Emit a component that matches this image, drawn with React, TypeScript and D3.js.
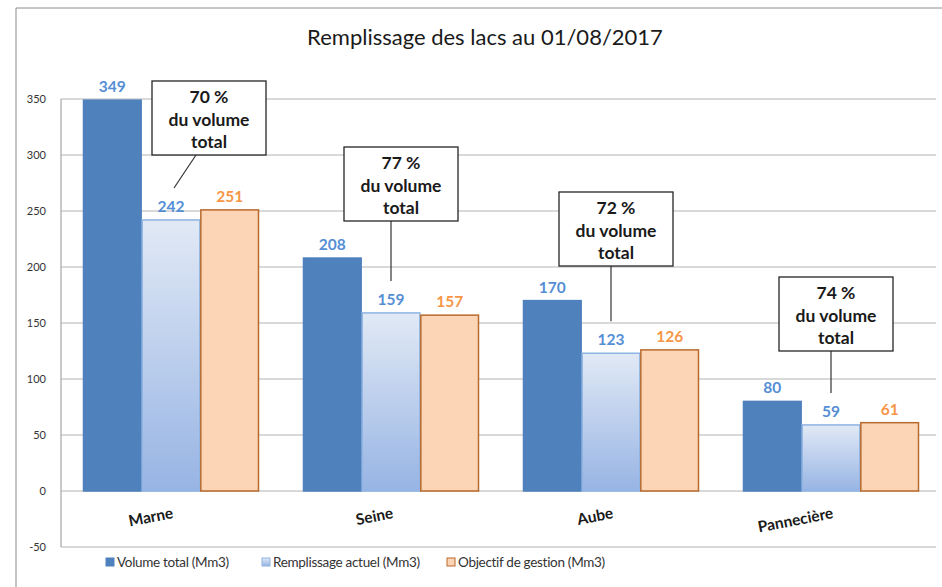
import React from "react";
import * as d3 from "d3";

const lakes = ["Marne", "Seine", "Aube", "Pannecière"];
const volumeTotal = [349, 208, 170, 80];
const remplissage = [242, 159, 123, 59];
const objectif = [251, 157, 126, 61];
const fillPct = ["70 %", "77 %", "72 %", "74 %"];
const yTicks = [-50, 0, 50, 100, 150, 200, 250, 300, 350];
const seriesNames = [
  "Volume total (Mm3)",
  "Remplissage actuel (Mm3)",
  "Objectif de gestion (Mm3)",
];

// callout placement (pixels, relative to the "remplissage" bar)
const calloutLayout = [
  { dx: 38, top: 81, lineDx: 25 },
  { dx: 10, top: 147, lineDx: 0 },
  { dx: 5, top: 192, lineDx: 0 },
  { dx: 5, top: 277, lineDx: 0 },
];

const W = 942;
const H = 587;
const margin = { left: 61, right: 1, top: 99, bottom: 40 };
const font = "Lato, 'Open Sans', sans-serif";

const App = () => {
  const x = d3
    .scaleBand()
    .domain(lakes)
    .range([margin.left, W - margin.right])
    .paddingInner(0.2)
    .paddingOuter(0.1);

  const sub = d3
    .scaleBand()
    .domain(["total", "actuel", "objectif"])
    .range([0, x.bandwidth()]);

  const y = d3.scaleLinear().domain([-50, 350]).range([547, 99]);

  const series = [
    { key: "total", values: volumeTotal, fill: "#4F81BD", stroke: "#4F81BD", label: "#558ED5" },
    { key: "actuel", values: remplissage, fill: "url(#gradActuel)", stroke: "#8EB4E3", label: "#558ED5" },
    { key: "objectif", values: objectif, fill: "#FBD5B5", stroke: "#B9692B", label: "#F79646" },
  ];

  const boxW = 114;
  const boxH = 74;

  return (
    <svg
      width={W}
      height={H}
      style={{ position: "fixed", left: 0, top: 0, background: "#fff" }}
    >
      <defs>
        <linearGradient id="gradActuel" x1="0" y1="0" x2="0" y2="1">
          <stop offset="0%" stopColor="#E1E9F5" />
          <stop offset="100%" stopColor="#97B4E4" />
        </linearGradient>
      </defs>

      {/* chart frame */}
      <line x1={16} x2={16} y1={8} y2={H} stroke="#8c8c8c" />
      <line x1={16} x2={W} y1={8} y2={8} stroke="#8c8c8c" />

      <text
        x={485}
        y={45}
        textAnchor="middle"
        fontFamily={font}
        fontSize={22}
        fill="#1a1a1a"
      >
        Remplissage des lacs au 01/08/2017
      </text>

      {/* grid + y axis */}
      {yTicks.map((t) => (
        <g key={t}>
          <line
            x1={margin.left}
            x2={W - 6}
            y1={y(t)}
            y2={y(t)}
            stroke="#b3b3b3"
            strokeWidth={1.2}
          />
          <text
            x={46}
            y={y(t)}
            dy="0.35em"
            textAnchor="end"
            fontFamily={font}
            fontSize={11}
            fill="#333"
          >
            {t}
          </text>
        </g>
      ))}
      <line
        x1={margin.left}
        x2={margin.left}
        y1={y(350)}
        y2={y(-50)}
        stroke="#a6a6a6"
        strokeWidth={1.2}
      />

      {/* bars */}
      {series.map((s) =>
        lakes.map((lake, i) => {
          const bx = (x(lake) as number) + (sub(s.key) as number);
          const v = s.values[i];
          return (
            <g key={s.key + lake}>
              <rect
                x={bx + 0.5}
                y={y(v)}
                width={sub.bandwidth() - 1}
                height={y(0) - y(v)}
                fill={s.fill}
                stroke={s.stroke}
                strokeWidth={1.5}
              />
              <text
                x={bx + sub.bandwidth() / 2}
                y={y(v) - 8}
                textAnchor="middle"
                fontFamily={font}
                fontWeight="bold"
                fontSize={15.5}
                fill={s.label}
              >
                {v}
              </text>
            </g>
          );
        })
      )}

      {/* x labels */}
      {lakes.map((lake) => {
        const cx = (x(lake) as number) + x.bandwidth() / 2;
        return (
          <text
            key={lake}
            transform={`translate(${cx + 3},518) rotate(-11)`}
            textAnchor="end"
            fontFamily={font}
            fontWeight="bold"
            fontSize={15.5}
            fill="#1a1a1a"
          >
            {lake}
          </text>
        );
      })}

      {/* callouts */}
      {lakes.map((lake, i) => {
        const L = calloutLayout[i];
        const bc = (x(lake) as number) + (sub("actuel") as number) + sub.bandwidth() / 2;
        const bx = bc + L.dx - boxW / 2;
        return (
          <g key={"c" + lake}>
            <line
              x1={bc + L.lineDx}
              y1={L.top + boxH}
              x2={bc + 3 * Math.sign(L.lineDx)}
              y2={y(remplissage[i]) - 32}
              stroke="#333"
              strokeWidth={1.2}
            />
            <rect
              x={bx}
              y={L.top}
              width={boxW}
              height={boxH}
              fill="#fff"
              stroke="#262626"
              strokeWidth={1.3}
            />
            {[fillPct[i], "du volume", "total"].map((t, k) => (
              <text
                key={k}
                x={bx + boxW / 2}
                y={L.top + 16 + k * 22.5}
                dy="0.35em"
                textAnchor="middle"
                fontFamily={font}
                fontWeight="bold"
                fontSize={17.5}
                fill="#1a1a1a"
              >
                {t}
              </text>
            ))}
          </g>
        );
      })}

      {/* legend */}
      {seriesNames.map((name, i) => {
        const lx = [106, 262, 447][i];
        const s = series[i];
        return (
          <g key={name}>
            <rect
              x={lx}
              y={558}
              width={8}
              height={8}
              fill={s.fill}
              stroke={s.stroke}
              strokeWidth={1}
            />
            <text
              x={lx + 11}
              y={562}
              dy="0.35em"
              fontFamily={font}
              fontSize={13.5}
              letterSpacing={-0.3}
              fill="#333"
            >
              {name}
            </text>
          </g>
        );
      })}
    </svg>
  );
};

export default App;
